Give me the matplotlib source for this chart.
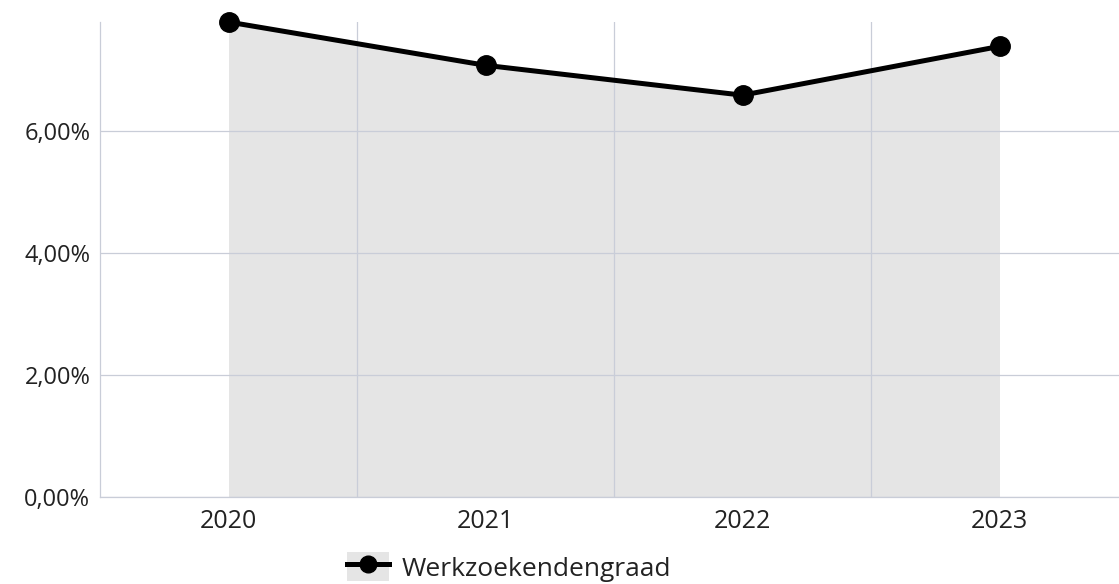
"""Werkzoekendengraad per jaar, area + line chart."""

import matplotlib

matplotlib.use("Agg")
import matplotlib.pyplot as plt
from matplotlib.lines import Line2D
from matplotlib.patches import Patch
from matplotlib.ticker import FuncFormatter


years = ["2020", "2021", "2022", "2023"]
rate = [7.79, 7.08, 6.59, 7.39]
y_ticks = [0, 2, 4, 6]

LINE = "#000000"
FILL = "#e5e5e5"
GRID = "#c9cdd8"
TEXT = "#222222"


def main() -> None:
    plt.rcParams["font.family"] = ["Open Sans", "DejaVu Sans"]

    fig = plt.figure(figsize=(11.19, 5.84), dpi=100)
    # plot area runs a little past the right edge of the canvas
    ax = fig.add_axes([100 / 1119, 1 - 497 / 584, 1028 / 1119, (497 - 22) / 584])

    xs = list(range(len(years)))
    ax.fill_between(xs, rate, 0, color=FILL, lw=0, zorder=1)
    ax.plot(xs, rate, color=LINE, lw=3.6, marker="o", ms=14, zorder=4, clip_on=False)

    ax.set_xlim(-0.5, len(years) - 0.5)
    ax.set_ylim(0, 7.79)
    ax.set_xticks(xs)
    ax.set_xticklabels(years)
    ax.set_xticks([i + 0.5 for i in xs[:-1]], minor=True)
    ax.set_yticks(y_ticks)
    ax.yaxis.set_major_formatter(FuncFormatter(lambda v, _: f"{v:.2f}%".replace(".", ",")))

    ax.grid(axis="y", which="major", color=GRID, lw=0.9, zorder=2)
    ax.grid(axis="x", which="minor", color=GRID, lw=0.9, zorder=2)
    ax.set_axisbelow(False)

    for side in ("top", "right"):
        ax.spines[side].set_visible(False)
    for side in ("left", "bottom"):
        ax.spines[side].set_color(GRID)
        ax.spines[side].set_linewidth(0.9)

    ax.tick_params(axis="both", which="both", length=0, colors=TEXT)
    ax.tick_params(axis="x", labelsize=18, pad=9)
    ax.tick_params(axis="y", labelsize=17, pad=7)

    handle = (
        Patch(facecolor=FILL, edgecolor="none"),
        Line2D([], [], color=LINE, lw=3.6, marker="o", ms=12),
    )
    fig.legend(
        [handle],
        ["Werkzoekendengraad"],
        loc="center",
        bbox_to_anchor=(509 / 1119, 1 - 567 / 584),
        frameon=False,
        fontsize=19,
        handlelength=1.6,
        handleheight=1.3,
        handletextpad=0.45,
        labelcolor=TEXT,
    )

    fig.savefig("out.png", dpi=100)


if __name__ == "__main__":
    main()
